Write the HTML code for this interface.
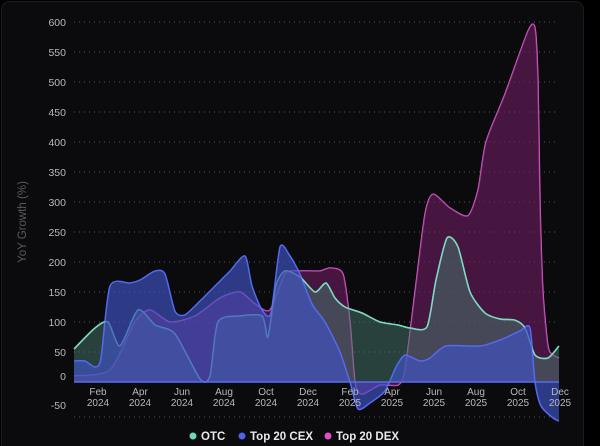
<!DOCTYPE html>
<html><head><meta charset="utf-8"><style>
html,body{margin:0;padding:0;background:#000;}
#c{position:absolute;left:0;top:0;width:600px;height:446px;}
</style></head><body>
<svg id="c" width="600" height="446" xmlns="http://www.w3.org/2000/svg" font-family="Liberation Sans, sans-serif">
<rect x="0" y="0" width="600" height="446" fill="#000"/>
<rect x="1.5" y="1.5" width="582" height="460" rx="8" fill="#0b0b0d" stroke="#1c1c20"/>
<g id="grid" stroke="#55555a" stroke-width="1" stroke-dasharray="1 4"></g>
<g id="ylab" fill="#b8b8bc" font-size="10.5" text-anchor="end"></g>
<text transform="translate(26,222) rotate(-90)" fill="#5a5a60" font-size="11.5" text-anchor="middle">YoY Growth (%)</text>
<g id="series"></g>
<line x1="74" y1="382" x2="559" y2="382" stroke="#5a6cf0" stroke-width="1.5"/>
<g id="xlab" fill="#b8b8bc" font-size="10" text-anchor="middle"></g>
<g font-size="11.5" font-weight="bold" fill="#e8e8ec">
<circle cx="193" cy="436" r="3.5" fill="#6fd6bd"/><text x="201" y="440">OTC</text>
<circle cx="242" cy="436" r="3.5" fill="#4a63ee"/><text x="250" y="440">Top 20 CEX</text>
<circle cx="328" cy="436" r="3.5" fill="#e04fc8"/><text x="336" y="440">Top 20 DEX</text>
</g>
</svg>
<script>
var NS="http://www.w3.org/2000/svg";
function Y(v){return 382-v*0.6;}
function el(t,a,p){var e=document.createElementNS(NS,t);for(var k in a)e.setAttribute(k,a[k]);p.appendChild(e);return e;}
var g=document.getElementById('grid'),yl=document.getElementById('ylab');
for(var v=600;v>=-50;v-=50){var y=v==-50?417:Y(v);if(v!=0)el('line',{x1:74,x2:559,y1:y,y2:y},g);
var t=el('text',{x:66,y:(v==-50?409:(v==0?380:y+4))},yl);t.textContent=v;}
var xl=document.getElementById('xlab');
var mon=["Feb","Apr","Jun","Aug","Oct","Dec"];
for(var i=0;i<12;i++){var x=98+i*42,yr=i<6?2024:2025;var a=el('text',{x:x,y:395},xl);a.textContent=mon[i%6];var b=el('text',{x:x,y:406},xl);b.textContent=yr;}
function path(pts){var p=pts.map(function(q){return [q[0],Y(q[1])]});var d="M"+p[0][0]+","+p[0][1];
for(var i=0;i<p.length-1;i++){var p0=p[i-1]||p[i],p1=p[i],p2=p[i+1],p3=p[i+2]||p2;var k=0.12;
d+=" C"+(p1[0]+(p2[0]-p0[0])*k)+","+(p1[1]+(p2[1]-p0[1])*k)+" "+(p2[0]-(p3[0]-p1[0])*k)+","+(p2[1]-(p3[1]-p1[1])*k)+" "+p2[0]+","+p2[1];}
return d;}
var S=document.getElementById('series');
function draw(pts,fill,stroke){var d=path(pts);el('path',{d:d,fill:'none',stroke:stroke,'stroke-width':1.5},S);el('path',{d:d+" L"+pts[pts.length-1][0]+",382 L"+pts[0][0]+",382 Z",fill:fill},S);}
var dex=[[74,10],[110,20],[135,100],[150,120],[170,100],[195,110],[220,140],[240,150],[255,130],[270,120],[285,180],[300,185],[320,185],[330,190],[343,180],[350,100],[355,0],[362,-20],[380,-5],[398,-5],[405,20],[415,150],[425,280],[433,313],[450,290],[468,277],[478,320],[486,400],[505,480],[528,585],[535,590],[538,500],[540,300],[543,150],[548,60],[553,45],[559,40]];
var otc=[[74,55],[95,90],[108,100],[120,60],[138,120],[155,95],[175,80],[200,5],[210,10],[218,100],[240,110],[262,110],[268,75],[276,160],[285,185],[300,175],[315,150],[326,165],[335,140],[345,125],[362,115],[380,100],[398,95],[410,90],[427,92],[436,170],[447,240],[458,225],[470,150],[485,115],[500,105],[515,103],[525,90],[535,45],[548,40],[559,60]];
var cex=[[74,35],[85,35],[95,25],[101,40],[110,160],[130,165],[140,170],[155,185],[165,180],[175,118],[185,112],[200,135],[215,160],[230,185],[245,210],[252,160],[262,120],[271,115],[280,225],[290,210],[300,180],[312,130],[325,100],[340,50],[350,0],[358,-45],[370,-35],[385,-15],[396,25],[405,45],[420,35],[430,40],[446,60],[480,60],[500,70],[520,85],[530,90],[535,0],[541,-40],[553,-60],[559,-65]];
draw(dex,'rgba(110,30,100,0.6)','#d85ccb');
draw(otc,'rgba(70,120,110,0.5)','#7dd8c2');
var d=path(cex);
el('path',{d:d+" L559,382 L74,382 Z",fill:'rgba(65,85,200,0.65)'},S);
el('path',{d:d,fill:'none',stroke:'#5569f0','stroke-width':1.5},S);
// redraw visible strokes on top for upper portions
el('path',{d:path(otc),fill:'none',stroke:'#7dd8c2','stroke-width':1.5,'clip-path':'url(#cl)'},S);
var cp=el('clipPath',{id:'cl'},S);el('path',{d:d+" L559,0 L74,0 Z"},cp);
</script>
</body></html>
